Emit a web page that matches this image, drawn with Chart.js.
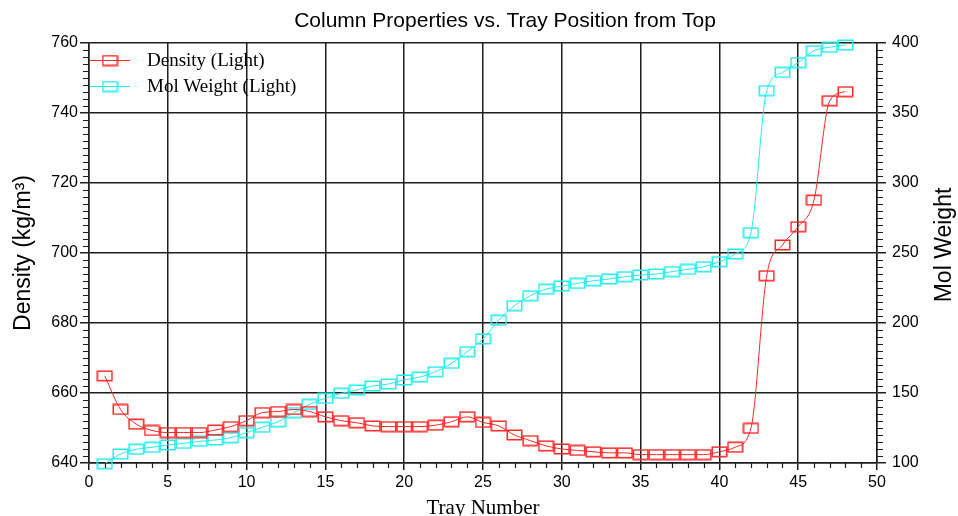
<!DOCTYPE html>
<html><head><meta charset="utf-8">
<script src="https://cdn.jsdelivr.net/npm/chart.js@4.4.0/dist/chart.umd.min.js"></script>
<style>html,body{margin:0;padding:0;background:#fff;overflow:hidden}#wrap{width:958px;height:516px}</style>
</head><body><div id="wrap"><canvas id="c" width="958" height="516"></canvas></div>
<script>
// ---- data ----
const trays = [1,2,3,4,5,6,7,8,9,10,11,12,13,14,15,16,17,18,19,20,21,22,23,24,25,26,27,28,29,30,31,32,33,34,35,36,37,38,39,40,41,42,43,44,45,46,47,48];
const density = [664.9,655.3,651.1,649.3,648.7,648.7,648.7,649.4,650.4,652.1,654.4,654.7,655.3,654.7,653.2,652.1,651.5,650.6,650.4,650.4,650.4,650.8,651.8,653.2,651.6,650.6,648.0,646.4,644.9,644.0,643.6,643.2,642.9,642.9,642.4,642.4,642.4,642.4,642.4,643.2,644.5,649.9,693.5,702.3,707.5,715.1,743.5,746.1];
const molWeight = [99.5,106.4,109.8,111.2,112.9,114.0,115.5,116.4,118.1,121.7,125.5,129.5,136.0,141.9,146.2,149.8,152.1,155.0,156.4,159.3,161.4,165.2,171.2,179.5,188.6,202.0,212.4,219.5,224.1,226.4,228.3,230.2,231.4,233.1,234.3,235.0,236.7,238.3,240.2,243.8,249.3,264.5,366.0,379.0,386.0,394.5,397.0,398.6];
const seriesNames = ['Density (Light)','Mol Weight (Light)'];
const xTicks = [0,5,10,15,20,25,30,35,40,45,50];
const densityTicks = [640,660,680,700,720,740,760];
const molTicks = [100,150,200,250,300,350,400];
const chartTitle = 'Column Properties vs. Tray Position from Top';
const rightTitle = 'Mol Weight';

const RED = '#ff2626';
const CYAN = '#22eeee';
const GRID = '#1e1e1e';
const SANS = '"Liberation Sans", Arial, sans-serif';
const SERIF = '"Liberation Serif", "Times New Roman", serif';

function boxMarker(color){
  const c = document.createElement('canvas');
  c.width = 17; c.height = 12;
  const g = c.getContext('2d');
  g.strokeStyle = color; g.lineWidth = 1.5;
  g.strokeRect(1.25, 1.25, 14.5, 9.5);
  return c;
}
const redBox = boxMarker(RED), cyanBox = boxMarker(CYAN);

const minorTicks = {
  id: 'minorTicks',
  afterDraw(chart){
    const {ctx, scales:{x, y, y1}} = chart;
    ctx.save();
    ctx.strokeStyle = GRID; ctx.lineWidth = 1.2;
    ctx.beginPath();
    for (let v = x.min; v <= x.max; v += 1){
      if (v % 5 === 0) continue;
      const px = Math.round(x.getPixelForValue(v)) + 0.5;
      ctx.moveTo(px, y.bottom); ctx.lineTo(px, y.bottom + 5);
    }
    for (let v = y.min; v <= y.max; v += 2){
      if (v % 20 === 0) continue;
      const py = Math.round(y.getPixelForValue(v)) + 0.5;
      ctx.moveTo(x.left, py); ctx.lineTo(x.left - 6, py);
    }
    for (let v = y1.min; v <= y1.max; v += 5){
      if (v % 50 === 0) continue;
      const py = Math.round(y1.getPixelForValue(v)) + 0.5;
      ctx.moveTo(x.right, py); ctx.lineTo(x.right + 6, py);
    }
    ctx.stroke();
    ctx.restore();
  }
};

const texts = {
  id: 'texts',
  afterDraw(chart){
    const {ctx, chartArea} = chart;
    ctx.save();
    ctx.fillStyle = '#000';
    // main title
    ctx.font = '21px ' + SANS;
    ctx.textAlign = 'center'; ctx.textBaseline = 'middle';
    ctx.fillText(chartTitle, 505, 21);
    // right axis title, reading bottom to top
    ctx.save();
    ctx.translate(945, 245);
    ctx.rotate(-Math.PI / 2);
    ctx.font = '23px ' + SANS;
    ctx.fillText(rightTitle, 0, 0);
    ctx.restore();
    // legend inside plot area
    chart.data.datasets.forEach((ds, i) => {
      const yy = 60 + 26 * i;
      const x0 = chartArea.left + 1, x1 = chartArea.left + 41;
      ctx.strokeStyle = ds.borderColor; ctx.lineWidth = 1;
      ctx.beginPath(); ctx.moveTo(x0, yy + 0.5); ctx.lineTo(x1, yy + 0.5); ctx.stroke();
      const img = ds.pointStyle;
      ctx.drawImage(img, (x0 + x1) / 2 - img.width / 2, yy - img.height / 2 + 0.5);
      ctx.fillStyle = '#000';
      ctx.font = '19px ' + SERIF;
      ctx.textBaseline = 'middle';
      ctx.textAlign = 'left';
      ctx.fillText(ds.label, chartArea.left + 58, yy + 1);
    });
    ctx.restore();
  }
};

const tickFont = {family: SANS, size: 16};

new Chart(document.getElementById('c'), {
  type: 'line',
  data: {
    datasets: [
      {label: seriesNames[0], data: trays.map((t, i) => ({x: t, y: density[i]})), yAxisID: 'y',
       borderColor: RED, borderWidth: 1, pointStyle: redBox, pointRadius: 7, cubicInterpolationMode: 'monotone', clip: false},
      {label: seriesNames[1], data: trays.map((t, i) => ({x: t, y: molWeight[i]})), yAxisID: 'y1',
       borderColor: CYAN, borderWidth: 1, pointStyle: cyanBox, pointRadius: 7, cubicInterpolationMode: 'monotone', clip: false}
    ]
  },
  options: {
    responsive: false, animation: false, devicePixelRatio: 1, events: [],
    layout: {padding: {top: 43, left: 0, right: 0, bottom: 0}},
    plugins: {
      legend: {display: false},
      tooltip: {enabled: false},
      title: {display: false}
    },
    scales: {
      x: {type: 'linear', position: 'bottom', min: 0, max: 50,
        afterBuildTicks: s => { s.ticks = xTicks.map(v => ({value: v})); },
        afterFit: s => { s.height = 53; },
        ticks: {color: '#000', font: tickFont, padding: 3, maxRotation: 0, autoSkip: false},
        grid: {color: GRID, lineWidth: 1.5, tickLength: 7, tickColor: GRID},
        border: {display: true, color: GRID, width: 1.5},
        title: {display: true, text: 'Tray Number', color: '#000',
          font: {family: SERIF, size: 21, lineHeight: 0.7}, padding: 0}},
      y: {type: 'linear', position: 'left', min: 640, max: 760,
        afterBuildTicks: s => { s.ticks = densityTicks.map(v => ({value: v})); },
        afterFit: s => { s.width = 89; },
        ticks: {color: '#000', font: tickFont, padding: 2},
        grid: {color: GRID, lineWidth: 1.5, tickLength: 9, tickColor: GRID},
        border: {display: true, color: GRID, width: 1.5},
        title: {display: true, text: 'Density (kg/m³)', color: '#000',
          font: {family: SANS, size: 23, lineHeight: 1.2}, padding: {top: 10, bottom: 0}}},
      y1: {type: 'linear', position: 'right', min: 100, max: 400,
        afterBuildTicks: s => { s.ticks = molTicks.map(v => ({value: v})); },
        afterFit: s => { s.width = 81; },
        ticks: {color: '#000', font: tickFont, padding: 6},
        grid: {drawOnChartArea: false, color: GRID, lineWidth: 1.5, tickLength: 9, tickColor: GRID},
        border: {display: true, color: GRID, width: 1.5},
        title: {display: false}}
    }
  },
  plugins: [minorTicks, texts]
});
</script>
</body></html>
